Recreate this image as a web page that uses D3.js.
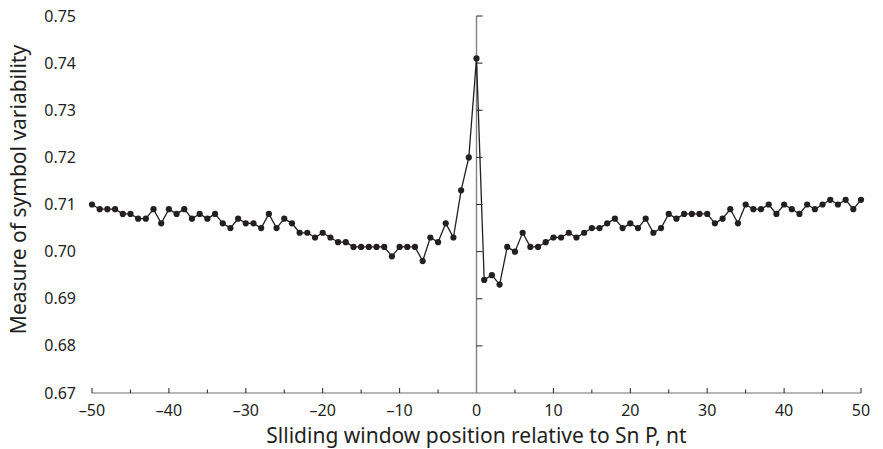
<!DOCTYPE html>
<html>

<head>
  <meta charset="utf-8" />
  <title>Symbol variability</title>
  <style>
    body {
      margin: 0;
      background: #fff;
    }

    text {
      font-family: "Noto Sans", "Open Sans", sans-serif;
      fill: #231f20;
    }

    .line {
      fill: none;
      stroke: #231f20;
      stroke-width: 1.3px;
    }

    .dot {
      fill: #231f20;
    }
  </style>
  <script src="https://cdnjs.cloudflare.com/ajax/libs/d3/7.8.5/d3.min.js"></script>
</head>

<body>
  <div id="chartArea"></div>
  <script>
    // window positions relative to the SNP, -50 .. 50
    var positions = d3.range(-50, 51);

    // values, left to right
    var leftValues = [
      0.710, 0.709, 0.709, 0.709, 0.708, 0.708, 0.707, 0.707, 0.709, 0.706,
      0.709, 0.708, 0.709, 0.707, 0.708, 0.707, 0.708, 0.706, 0.705, 0.707,
      0.706, 0.706, 0.705, 0.708, 0.705, 0.707, 0.706, 0.704, 0.704, 0.703,
      0.704, 0.703, 0.702, 0.702, 0.701, 0.701, 0.701, 0.701, 0.701, 0.699,
      0.701, 0.701, 0.701, 0.698, 0.703, 0.702, 0.706, 0.703, 0.713, 0.720
    ];
    var centerValue = [0.741];
    var rightValues = [
      0.694, 0.695, 0.693, 0.701, 0.700, 0.704, 0.701, 0.701, 0.702, 0.703,
      0.703, 0.704, 0.703, 0.704, 0.705, 0.705, 0.706, 0.707, 0.705, 0.706,
      0.705, 0.707, 0.704, 0.705, 0.708, 0.707, 0.708, 0.708, 0.708, 0.708,
      0.706, 0.707, 0.709, 0.706, 0.710, 0.709, 0.709, 0.710, 0.708, 0.710,
      0.709, 0.708, 0.710, 0.709, 0.710, 0.711, 0.710, 0.711, 0.709, 0.711
    ];
    var values = leftValues.concat(centerValue, rightValues);

    var xTicks = [-50, -40, -30, -20, -10, 0, 10, 20, 30, 40, 50];
    var xMinorTicks = [-45, -35, -25, -15, -5, 5, 15, 25, 35, 45];
    var yTicks = [0.67, 0.68, 0.69, 0.70, 0.71, 0.72, 0.73, 0.74, 0.75];

    var data = positions.map((p, i) => ({ pos: p, val: values[i] }));

    var W = 883, H = 449;
    var margin = { top: 16, right: 22, bottom: 56, left: 92 };
    var w = W - margin.left - margin.right,
      h = H - margin.top - margin.bottom;

    var svg = d3.select('#chartArea')
      .append('svg')
      .attr('width', W)
      .attr('height', H);

    var g = svg.append('g')
      .attr('transform', 'translate(' + margin.left + ',' + margin.top + ')');

    var xScale = d3.scaleLinear().domain([-50, 50]).range([0, w]);
    var yScale = d3.scaleLinear().domain([0.67, 0.75]).range([h, 0]);

    var fmtX = d => d < 0 ? '\u2013' + Math.abs(d) : String(d);

    // x axis line along the bottom
    g.append('line')
      .attr('x1', 0).attr('x2', w)
      .attr('y1', h).attr('y2', h)
      .attr('stroke', '#6d6e70').attr('stroke-width', 1.2);

    g.selectAll('.xtick')
      .data(xTicks)
      .enter().append('line')
      .attr('x1', d => xScale(d)).attr('x2', d => xScale(d))
      .attr('y1', h).attr('y2', h - 5)
      .attr('stroke', '#231f20').attr('stroke-width', 1);

    g.selectAll('.xminor')
      .data(xMinorTicks)
      .enter().append('line')
      .attr('x1', d => xScale(d)).attr('x2', d => xScale(d))
      .attr('y1', h).attr('y2', h - 3.5)
      .attr('stroke', '#231f20').attr('stroke-width', 1);

    g.selectAll('.xlabel')
      .data(xTicks)
      .enter().append('text')
      .attr('x', d => xScale(d))
      .attr('y', h + 23)
      .attr('text-anchor', 'middle')
      .style('font-size', '16px')
      .text(fmtX);

    // y axis sits at position 0
    g.append('line')
      .attr('x1', xScale(0)).attr('x2', xScale(0))
      .attr('y1', 0).attr('y2', h)
      .attr('stroke', '#808285').attr('stroke-width', 1.4);

    g.selectAll('.ytick')
      .data(yTicks.slice(1))
      .enter().append('line')
      .attr('x1', xScale(0)).attr('x2', xScale(0) + 6)
      .attr('y1', d => yScale(d)).attr('y2', d => yScale(d))
      .attr('stroke', '#231f20').attr('stroke-width', 1);

    g.selectAll('.ylabel')
      .data(yTicks)
      .enter().append('text')
      .attr('x', -16)
      .attr('y', d => yScale(d))
      .attr('dy', '0.35em')
      .attr('text-anchor', 'end')
      .style('font-size', '16px')
      .text(d => d.toFixed(2));

    // the series
    var line = d3.line()
      .x(d => xScale(d.pos))
      .y(d => yScale(d.val));

    g.append('path')
      .datum(data)
      .attr('class', 'line')
      .attr('d', line);

    g.selectAll('.dot')
      .data(data)
      .enter().append('circle')
      .attr('class', 'dot')
      .attr('cx', d => xScale(d.pos))
      .attr('cy', d => yScale(d.val))
      .attr('r', 3.1);

    // axis titles
    svg.append('text')
      .attr('x', margin.left + xScale(0))
      .attr('y', H - 6)
      .attr('text-anchor', 'middle')
      .style('font-size', '21px')
      .text('Slliding window position relative to Sn P, nt');

    svg.append('text')
      .attr('transform', 'translate(26,' + (margin.top + h / 2 - 15) + ') rotate(-90)')
      .attr('text-anchor', 'middle')
      .style('font-size', '21px')
      .text('Measure of symbol variability');
  </script>
</body>

</html>
